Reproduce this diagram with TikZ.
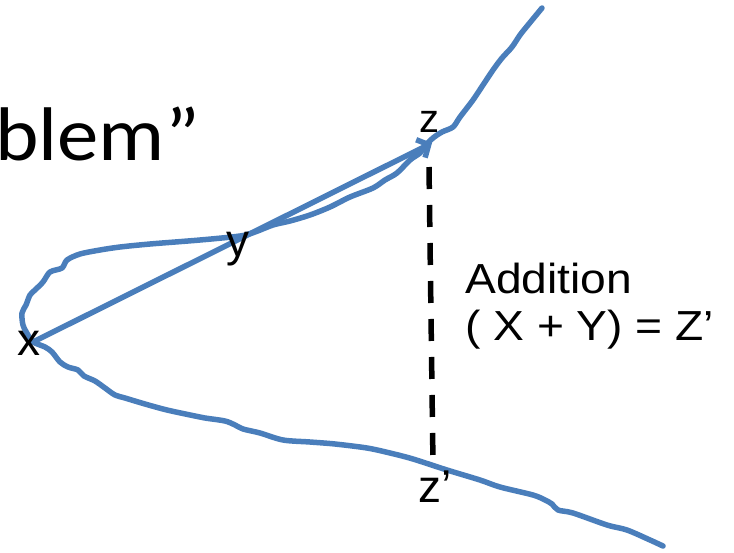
\documentclass[tikz,border=0pt]{standalone}
\usepackage{fontspec}
\setmainfont{Liberation Sans}
\newfontfamily\calib{Carlito}
\usetikzlibrary{arrows.meta}
\definecolor{curveblue}{RGB}{74,126,187}
\tikzset{
  curveline/.style={draw=curveblue, line width=5.5pt, line cap=round, line join=round},
  vecline/.style={draw=curveblue, line width=5.5pt, line cap=round, -{Straight Barb[length=9pt,width=20pt,line width=5.5pt]}},
  dashline/.style={draw=black, line width=5.5pt, dash pattern=on 22pt off 16pt},
  ptlabel/.style={inner sep=0pt, font=\fontsize{46}{50}\selectfont},
  bigtext/.style={inner sep=0pt, anchor=base west}
}
\begin{document}
\begin{tikzpicture}[x=1pt,y=-1pt]
\useasboundingbox (0,0) rectangle (734,552);
\node[bigtext] (title) at (-5,160) {\scalebox{1.09}[1]{\calib\fontsize{76}{80}\selectfont blem”}};
\draw[curveline] plot[smooth, tension=0.5] coordinates {
(542,8) (528,25) (520,35) (512,47) (502,58) (493,70) (483,85) (473,100) (460,117) (453,127) (442,132) (433,138) (425,146) (420,153) (410,160) (397,173) (385,180) (373,188) (350,197) (330,207) (310,215) (290,221) (273,225) (255,232) (240,236) (200,240) (150,244) (120,247) (100,250) (80,254) (67,260) (62,268) (50,272) (43,282) (35,290) (30,295) (26,305) (22,313) (23,325) (28,335) (33,342) (45,347) (52,352) (60,362) (68,367) (78,370) (84,376) (95,381) (105,388) (115,395) (125,398) (145,404) (167,410) (195,416) (205,418) (225,421) (235,425) (243,429) (260,433) (283,440) (310,442) (335,444) (367,448) (390,453) (413,459) (447,470) (480,480) (500,487) (533,495) (545,500) (552,504) (558,510) (573,513) (607,525) (627,530) (650,540) (663,546)};
\coordinate (px) at (33,342);
\coordinate (pz) at (432,143);
\draw[vecline] (px) -- (pz);
\coordinate (dtop) at (429,167);
\coordinate (dbot) at (433,464);
\draw[dashline] (dtop) -- (dbot);
\node[ptlabel, anchor=base] (lz) at (429,132) {\fontsize{40}{42}\selectfont z};
\node[ptlabel, anchor=base] (ly) at (238,256) {y};
\node[ptlabel, anchor=base] (lx) at (29,355) {x};
\node[ptlabel, anchor=base west] (lzp) at (418,502) {z’};
\node[bigtext] (add) at (465,293) {\scalebox{1.1}[1]{\fontsize{42}{46}\selectfont Addition}};
\node[bigtext] (eq) at (465,340) {\scalebox{1.1}[1]{\fontsize{42}{46}\selectfont ( X + Y) = Z’}};
\end{tikzpicture}
\end{document}
